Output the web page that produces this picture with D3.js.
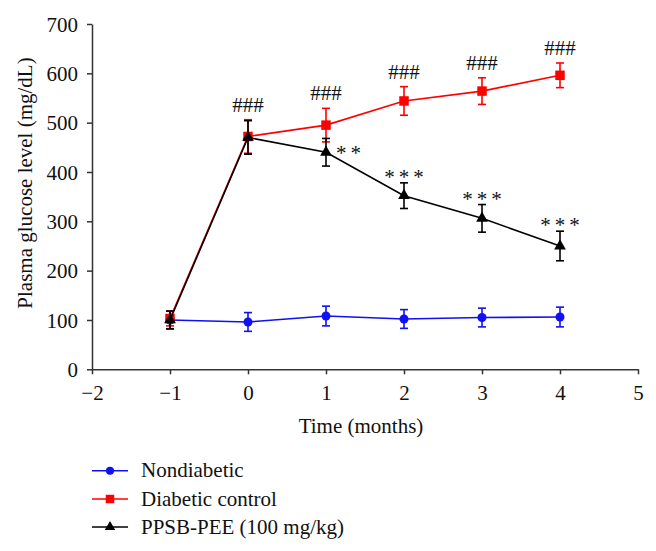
<!DOCTYPE html>
<html><head><meta charset="utf-8">
<script src="https://cdn.jsdelivr.net/npm/d3@7"></script>
<style>body{margin:0;background:#fff;} svg{display:block;} svg text{font-family:"Liberation Serif", serif !important; font-size:21px; fill:#111;}</style>
</head><body>
<svg id="c" width="656" height="551"></svg>
<script>
const months = [-1, 0, 1, 2, 3, 4];
const nondiabetic = [100, 96, 108, 102, 105, 106];
const nondiabeticErr = [18, 19, 20, 19, 19, 20];
const diabetic = [103, 472, 495, 544, 564, 596];
const diabeticErr = [15, 34, 34, 29, 27, 25];
const ppsb = [100, 470, 440, 352, 306, 250];
const ppsbErr = [18, 34, 28, 26, 28, 30];
const diabeticMarks = ["", "###", "###", "###", "###", "###"];
const ppsbMarks = ["", "", "**", "***", "***", "***"];
const xTicks = [-2, -1, 0, 1, 2, 3, 4, 5];
const yTicks = [0, 100, 200, 300, 400, 500, 600, 700];
const seriesNames = ["Nondiabetic", "Diabetic control", "PPSB-PEE (100 mg/kg)"];

const svg = d3.select("#c");
const x = d3.scaleLinear().domain([-2, 5]).range([92, 638]);
const y = d3.scaleLinear().domain([0, 700]).range([369.3, 24]);

const fmt = d => (d < 0 ? "\u2212" + Math.abs(d) : "" + d);

const xAxis = svg.append("g").attr("transform", "translate(0,369.3)")
  .call(d3.axisBottom(x).tickValues(xTicks).tickFormat(fmt).tickSize(5).tickPadding(11).tickSizeOuter(0));
const yAxis = svg.append("g").attr("transform", "translate(92,0)")
  .call(d3.axisLeft(y).tickValues(yTicks).tickSize(5).tickPadding(9).tickSizeOuter(0));
[xAxis, yAxis].forEach(a => {
  a.attr("font-family", null).attr("font-size", null);
  a.selectAll("path,line").attr("stroke", "#333").attr("stroke-width", 1.5);
});
yAxis.selectAll("text").attr("dy", "0.34em");

svg.append("text").attr("x", 361).attr("y", 432.5).attr("text-anchor", "middle").text("Time (months)");
svg.append("text").attr("transform", "translate(32,183) rotate(-90)").attr("text-anchor", "middle")
  .text("Plasma glucose level (mg/dL)");

const series = [
  {vals: nondiabetic, err: nondiabeticErr, color: "#1010f0", shape: d3.symbolCircle, size: 64},
  {vals: diabetic, err: diabeticErr, color: "#ff0000", shape: d3.symbolSquare, size: 90},
  {vals: ppsb, err: ppsbErr, color: "#000000", shape: d3.symbolTriangle, size: 60}
];
const line = d3.line().x(d => x(d[0])).y(d => y(d[1]));

series.forEach(s => {
  const g = svg.append("g");
  const pts = months.map((m, i) => [m, s.vals[i], s.err[i]]);
  g.append("path").attr("d", line(pts)).attr("fill", "none").attr("stroke", s.color).attr("stroke-width", 1.6);
  pts.forEach(p => {
    const cx = x(p[0]), t = y(p[1] + p[2]), b = y(p[1] - p[2]);
    g.append("line").attr("x1", cx).attr("x2", cx).attr("y1", t).attr("y2", b).attr("stroke", s.color).attr("stroke-width", 1.6);
    [t, b].forEach(yy => g.append("line").attr("x1", cx - 4).attr("x2", cx + 4).attr("y1", yy).attr("y2", yy)
      .attr("stroke", s.color).attr("stroke-width", 1.6));
    g.append("path").attr("d", d3.symbol().type(s.shape).size(s.size)())
      .attr("transform", `translate(${cx},${y(p[1])})`).attr("fill", s.color);
  });
});

// annotations
months.forEach((m, i) => {
  if (diabeticMarks[i]) {
    const top = Math.max(diabetic[i] + diabeticErr[i], ppsb[i] + ppsbErr[i]);
    svg.append("text").attr("x", x(m)).attr("y", y(top) - 8).attr("text-anchor", "middle").text(diabeticMarks[i]);
  }
  if (ppsbMarks[i]) {
    const t = svg.append("text").attr("letter-spacing", "4px").text(ppsbMarks[i]);
    if (ppsbMarks[i].length === 2) {
      t.attr("x", x(m) + 10).attr("y", y(ppsb[i]) + 8).attr("text-anchor", "start");
    } else {
      t.attr("x", x(m) + 2).attr("y", y(ppsb[i] + ppsbErr[i]) + 1).attr("text-anchor", "middle");
    }
  }
});

// legend
const legY = [470.7, 499, 527];
series.forEach((s, i) => {
  const g = svg.append("g").attr("transform", `translate(0,${legY[i]})`);
  g.append("line").attr("x1", 92).attr("x2", 128).attr("y1", 0).attr("y2", 0).attr("stroke", s.color).attr("stroke-width", 1.6);
  g.append("path").attr("d", d3.symbol().type(s.shape).size(s.size * 0.8)()).attr("transform", "translate(110,0)").attr("fill", s.color);
  g.append("text").attr("x", 141).attr("y", 0).attr("dy", "0.32em").text(seriesNames[i]);
});
</script>
</body></html>
